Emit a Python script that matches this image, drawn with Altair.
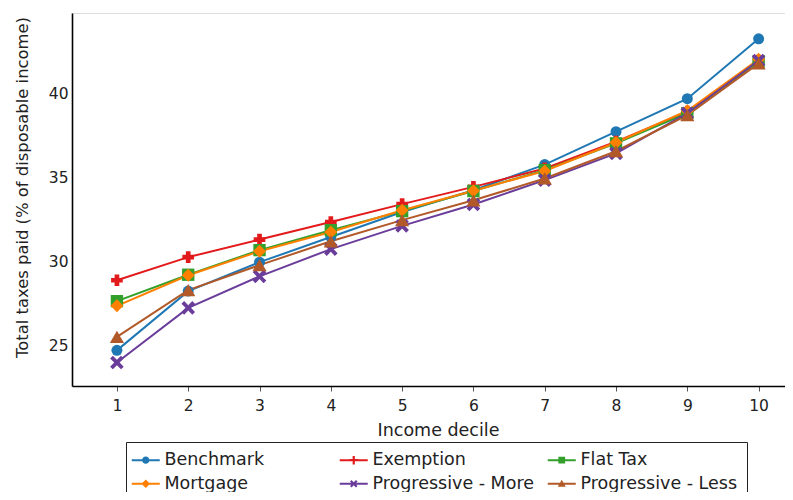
import altair as alt
import pandas as pd

deciles = [1, 2, 3, 4, 5, 6, 7, 8, 9, 10]
scenarios = ["Benchmark", "Exemption", "Flat Tax", "Mortgage",
             "Progressive - More", "Progressive - Less"]

benchmark = [24.68, 28.22, 29.95, 31.45, 32.95, 34.25, 35.78, 37.75, 39.72, 43.3]
exemption = [28.87, 30.25, 31.3, 32.35, 33.42, 34.45, 35.55, 37.15, 38.95, 42.0]
flat_tax = [27.62, 29.2, 30.67, 31.86, 33.0, 34.2, 35.45, 37.05, 38.85, 41.95]
mortgage = [27.34, 29.17, 30.6, 31.75, 33.05, 34.22, 35.4, 37.1, 39.0, 42.07]
prog_more = [23.95, 27.22, 29.1, 30.73, 32.12, 33.4, 34.85, 36.45, 38.85, 42.0]
prog_less = [25.49, 28.28, 29.77, 31.2, 32.46, 33.65, 34.95, 36.58, 38.73, 41.83]

series = [benchmark, exemption, flat_tax, mortgage, prog_more, prog_less]
colors = ["#1f78b4", "#e31a1c", "#33a02c", "#ff7f00", "#6a3d9a", "#b15928"]

rows = []
for i, (name, vals) in enumerate(zip(scenarios, series)):
    for d, v in zip(deciles, vals):
        rows.append({"Decile": d, "Scenario": name, "Tax": v, "k": i})
df = pd.DataFrame(rows)

X_PATH = ("M-1,-0.6 L-0.6,-1 L0,-0.4 L0.6,-1 L1,-0.6 L0.4,0 L1,0.6 "
          "L0.6,1 L0,0.4 L-0.6,1 L-1,0.6 L-0.4,0 Z")
point_shapes = ["circle", "cross", "square", "diamond", X_PATH, "triangle-up"]
point_sizes = [121, 200, 121, 170, 150, 160]

BAR = "M-2.8,-0.2 L2.8,-0.2 L2.8,0.2 L-2.8,0.2 Z "
leg_shapes = [
    BAR + "M-0.72,0 A0.72 0.72 0 1 1 0.72,0 A0.72 0.72 0 1 1 -0.72,0 Z",
    BAR + ("M-0.85,-0.22 L-0.22,-0.22 L-0.22,-0.85 L0.22,-0.85 L0.22,-0.22 "
           "L0.85,-0.22 L0.85,0.22 L0.22,0.22 L0.22,0.85 L-0.22,0.85 "
           "L-0.22,0.22 L-0.85,0.22 Z"),
    BAR + "M-0.68,-0.68 L0.68,-0.68 L0.68,0.68 L-0.68,0.68 Z",
    BAR + "M0,-0.85 L0.85,0 L0,0.85 L-0.85,0 Z",
    BAR + ("M-0.75,-0.45 L-0.45,-0.75 L0,-0.3 L0.45,-0.75 L0.75,-0.45 "
           "L0.3,0 L0.75,0.45 L0.45,0.75 L0,0.3 L-0.45,0.75 L-0.75,0.45 "
           "L-0.3,0 Z"),
    BAR + "M0,-0.8 L0.8,0.6 L-0.8,0.6 Z",
]

FONT = "DejaVu Sans"

x_enc = alt.X("Decile:Q",
              scale=alt.Scale(domain=[0.37, 10.37], nice=False, zero=False),
              axis=alt.Axis(values=deciles, title="Income decile", grid=False,
                            labelFont=FONT, labelFontSize=15.5, labelColor="#222",
                            titleFont=FONT, titleFontSize=17.5, titleFontWeight="normal",
                            titleColor="#222", titleX=366, titleY=44,
                            titleBaseline="middle",
                            tickSize=5, tickColor="#555", tickWidth=1,
                            labelPadding=7, domainColor="black", domainWidth=1.6,
                            labelFlush=False))
y_enc = alt.Y("Tax:Q",
              scale=alt.Scale(domain=[22.55, 44.84], nice=False, zero=False),
              axis=alt.Axis(values=[25, 30, 35, 40],
                            title="Total taxes paid (% of disposable income)",
                            grid=False, ticks=False, tickSize=0, labelPadding=4,
                            labelFont=FONT, labelFontSize=15.5, labelColor="#222",
                            titleFont=FONT, titleFontSize=16.4, titleFontWeight="normal",
                            titleColor="#222", titleX=-50, titleY=174,
                            titleBaseline="middle", titleAngle=270,
                            domainColor="black", domainWidth=1.6,
                            labelFlush=False))

color_scale = alt.Scale(domain=scenarios, range=colors)

lines = alt.Chart(df).mark_line(strokeWidth=2).encode(
    x=x_enc, y=y_enc,
    color=alt.Color("Scenario:N", scale=color_scale, legend=None),
    detail="Scenario:N",
    order="Decile:Q",
)

points = alt.Chart(df).mark_point(filled=True, opacity=1).encode(
    x=x_enc, y=y_enc,
    color=alt.Color("Scenario:N", scale=color_scale, legend=None),
    shape=alt.Shape("Scenario:N", scale=alt.Scale(domain=scenarios, range=point_shapes),
                    legend=None),
    size=alt.Size("Scenario:N", scale=alt.Scale(domain=scenarios, range=point_sizes),
                  legend=None),
    order="k:Q",
)

legend = alt.Legend(
    title=None, orient="none", legendX=54, legendY=429, columns=3,
    direction="horizontal", gridAlign="all",
    symbolSize=100, symbolStrokeWidth=0, symbolOffset=2,
    labelFont=FONT, labelFontSize=17.5, labelColor="#222", labelLimit=400,
    labelOffset=10, columnPadding=13, rowPadding=5, padding=9,
    strokeColor="#222", fillColor="white", cornerRadius=0,
)

legend_layer = alt.Chart(df).transform_filter("false").mark_point(
    filled=True, opacity=1).encode(
    x=x_enc, y=y_enc,
    color=alt.Color("Scenario:N", scale=color_scale, legend=legend),
    shape=alt.Shape("Scenario:N", scale=alt.Scale(domain=scenarios, range=leg_shapes),
                    legend=legend),
)

chart = alt.layer(lines, points, legend_layer).resolve_scale(
    color="independent", shape="independent", size="independent"
).properties(
    width=713, height=373,
    autosize=alt.AutoSizeParams(type="none"),
    padding={"left": 64, "top": 5, "right": 0, "bottom": 106},
).configure_view(stroke=None).configure(background="white")

chart.save("out.html", embed_options={"renderer": "svg", "actions": False})
